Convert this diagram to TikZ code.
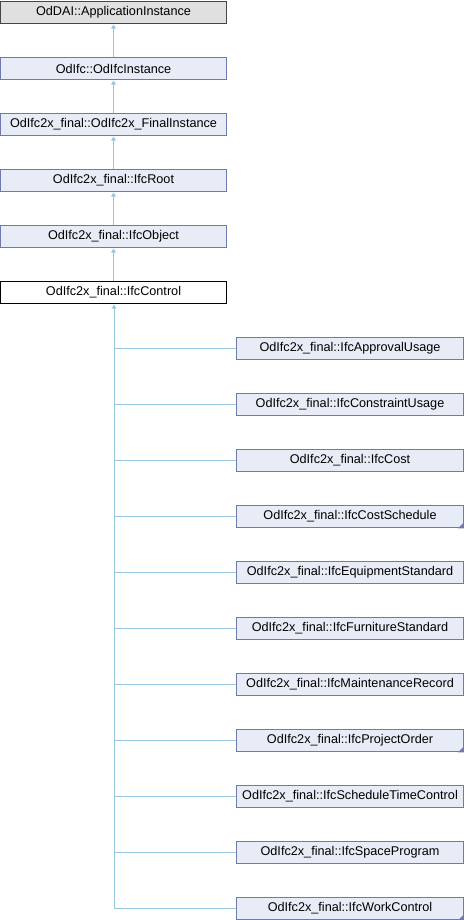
\documentclass[tikz,border=0pt]{standalone}
\usepackage{fontspec}
\setmainfont{Liberation Sans}
\usetikzlibrary{arrows.meta}
\definecolor{edgeblue}{RGB}{150,200,228}
\definecolor{boxfill}{RGB}{232,236,246}
\definecolor{boxline}{RGB}{110,122,175}
\definecolor{topfill}{RGB}{224,224,224}
\definecolor{topline}{RGB}{70,70,70}
\begin{document}
\begin{tikzpicture}[x=0.75pt,y=-0.75pt,line width=0.75pt,font=\fontsize{9.5pt}{11pt}\selectfont,
  cls/.style={draw=boxline,fill=boxfill,minimum width=170.2pt,minimum height=17.2pt,inner sep=0pt},
  topcls/.style={cls,draw=topline,fill=topfill},
  curcls/.style={cls,draw=black,fill=white},
  inh/.style={draw=edgeblue,-{Triangle[length=3.2pt,width=3.6pt]}},
  more/.style={fill=boxline}]
  \useasboundingbox (0,0) rectangle (464,920);
  \node[topcls] (app) at (113.5,12.5) {OdDAI::ApplicationInstance};
  \node[cls] (ifcinst) at (113.5,68.5) {OdIfc::OdIfcInstance};
  \node[cls] (final) at (113.5,124.5) {OdIfc2x\_final::OdIfc2x\_FinalInstance};
  \node[cls] (root) at (113.5,180.5) {OdIfc2x\_final::IfcRoot};
  \node[cls] (object) at (113.5,236.5) {OdIfc2x\_final::IfcObject};
  \node[curcls] (control) at (113.5,292.5) {OdIfc2x\_final::IfcControl};
  \draw[inh] (ifcinst)--(app);
  \draw[inh] (final)--(ifcinst);
  \draw[inh] (root)--(final);
  \draw[inh] (object)--(root);
  \draw[inh] (control)--(object);

  \node[cls] (approval) at (350,348.5) {OdIfc2x\_final::IfcApprovalUsage};
  \node[cls] (constraint) at (350,404.5) {OdIfc2x\_final::IfcConstraintUsage};
  \node[cls] (cost) at (350,460.5) {OdIfc2x\_final::IfcCost};
  \node[cls] (costsched) at (350,516.5) {OdIfc2x\_final::IfcCostSchedule};
  \node[cls] (equip) at (350,572.5) {OdIfc2x\_final::IfcEquipmentStandard};
  \node[cls] (furn) at (350,628.5) {OdIfc2x\_final::IfcFurnitureStandard};
  \node[cls] (maint) at (350,684.5) {OdIfc2x\_final::IfcMaintenanceRecord};
  \node[cls] (order) at (350,740.5) {OdIfc2x\_final::IfcProjectOrder};
  \node[cls] (sched) at (350,796.5) {OdIfc2x\_final::IfcScheduleTimeControl};
  \node[cls] (space) at (350,852.5) {OdIfc2x\_final::IfcSpaceProgram};
  \node[cls] (work) at (350,908.5) {OdIfc2x\_final::IfcWorkControl};
  % classes with further children
  \fill[more] (costsched.south east) -- ++(-6,0) -- ++(6,-6) -- cycle;
  \fill[more] (order.south east) -- ++(-6,0) -- ++(6,-6) -- cycle;
  \fill[more] (work.south east) -- ++(-6,0) -- ++(6,-6) -- cycle;

  \coordinate (trunk) at (114,908.5);
  \draw[inh] (trunk)--(control.south-|trunk);
  \draw[draw=edgeblue] (approval.west)--(approval.west-|trunk);
  \draw[draw=edgeblue] (constraint.west)--(constraint.west-|trunk);
  \draw[draw=edgeblue] (cost.west)--(cost.west-|trunk);
  \draw[draw=edgeblue] (costsched.west)--(costsched.west-|trunk);
  \draw[draw=edgeblue] (equip.west)--(equip.west-|trunk);
  \draw[draw=edgeblue] (furn.west)--(furn.west-|trunk);
  \draw[draw=edgeblue] (maint.west)--(maint.west-|trunk);
  \draw[draw=edgeblue] (order.west)--(order.west-|trunk);
  \draw[draw=edgeblue] (sched.west)--(sched.west-|trunk);
  \draw[draw=edgeblue] (space.west)--(space.west-|trunk);
  \draw[draw=edgeblue] (work.west)--(trunk);
\end{tikzpicture}
\end{document}
